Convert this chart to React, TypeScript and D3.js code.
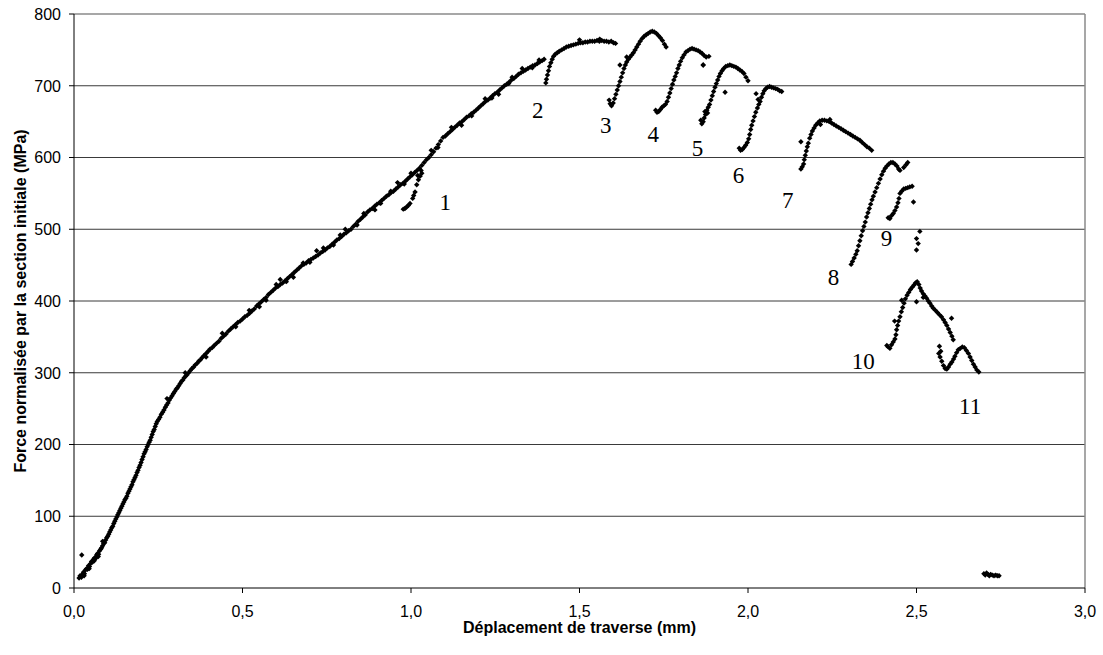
import React from "react";
import * as d3 from "d3";

type P = [number, number];

const xTicks = [0, 0.5, 1.0, 1.5, 2.0, 2.5, 3.0];
const yTicks = [0, 100, 200, 300, 400, 500, 600, 700, 800];

const loading: P[] = [
  [0.015,14],[0.018,17],[0.022,15],[0.025,19],[0.028,22],[0.031,20],[0.034,25],[0.037,27],[0.040,26],[0.043,31],[0.046,30],[0.049,34],[0.052,37],[0.055,36],[0.058,40],[0.061,42],[0.064,41],[0.067,46],[0.070,48],[0.073,47],[0.076,52],[0.079,54],[0.082,56],[0.085,59],[0.088,62],[0.091,63],[0.094,67],[0.097,70],[0.100,72],[0.103,75],[0.106,78],[0.109,81],[0.112,84],[0.115,86],[0.118,90],[0.121,93],[0.124,96],[0.127,99],[0.130,102],[0.133,105],[0.136,108],[0.139,111],[0.142,114],[0.145,117],[0.148,120],[0.151,123],[0.154,125],[0.157,128],[0.160,132],[0.163,135],[0.166,138],[0.169,141],[0.172,144],[0.175,148],[0.178,151],[0.181,154],[0.184,157],[0.187,161],[0.190,164],[0.193,168],[0.196,171],[0.199,175],[0.202,179],[0.205,183],[0.208,187],[0.211,190],[0.214,193],[0.217,197],[0.220,200],[0.223,203],[0.226,206],[0.229,210],[0.232,214],[0.235,218],[0.238,221],[0.241,225],[0.244,229],[0.247,232],[0.251,235],[0.255,238],[0.259,242],[0.263,245],[0.267,248],[0.271,252],[0.275,255],[0.279,258],[0.283,262],[0.287,265],[0.291,268],[0.295,271],[0.299,274],[0.303,277],[0.307,279],[0.311,282],[0.315,285],[0.319,288],[0.323,290],[0.327,293],[0.331,295],[0.335,297],[0.340,300],[0.345,303],[0.350,306],[0.355,308],[0.360,311],[0.365,313],[0.370,316],[0.375,318],[0.380,321],[0.386,324],[0.392,327],[0.398,330],[0.404,333],[0.410,335],[0.416,338],[0.423,341],[0.430,344],[0.437,348],[0.444,351],[0.451,354],[0.458,358],[0.465,361],[0.472,364],[0.479,367],[0.486,370],[0.493,372],[0.500,375],[0.507,378],[0.514,380],[0.521,383],[0.528,386],[0.535,389],[0.542,393],[0.549,396],[0.556,399],[0.563,402],[0.570,405],[0.577,409],[0.584,412],[0.591,415],[0.598,418],[0.605,420],[0.612,423],[0.619,425],[0.626,428],[0.633,431],[0.640,434],[0.647,437],[0.654,440],[0.661,443],[0.668,446],[0.675,449],[0.682,451],[0.689,453],[0.696,456],[0.703,458],[0.710,460],[0.717,462],[0.724,464],[0.731,467],[0.738,469],[0.745,471],[0.752,474],[0.759,476],[0.766,479],[0.773,482],[0.780,485],[0.787,487],[0.794,490],[0.801,493],[0.808,495],[0.815,498],[0.822,500],[0.829,504],[0.836,507],[0.843,511],[0.850,514],[0.857,517],[0.864,520],[0.871,524],[0.878,527],[0.885,529],[0.892,532],[0.899,535],[0.906,537],[0.913,540],[0.920,543],[0.927,546],[0.934,548],[0.941,551],[0.948,553],[0.955,556],[0.962,559],[0.969,562],[0.976,564],[0.983,567],[0.990,570],[0.997,573],[1.004,576],[1.011,579],[1.018,582],[1.025,585],[1.032,589],[1.039,593],[1.046,597],[1.053,600],[1.060,604],[1.067,608],[1.074,613],[1.081,618],[1.088,623],[1.095,628],[1.102,630],[1.109,633],[1.116,636],[1.123,639],[1.130,642],[1.137,645],[1.144,648],[1.151,650],[1.158,653],[1.165,656],[1.172,658],[1.179,661],[1.186,663],[1.193,666],[1.200,669],[1.207,672],[1.214,675],[1.221,678],[1.228,680],[1.235,683],[1.242,686],[1.249,689],[1.256,691],[1.263,694],[1.270,697],[1.277,700],[1.284,702],[1.291,705],[1.298,708],[1.305,710],[1.312,713],[1.319,716],[1.326,718],[1.333,720],[1.340,722],[1.347,724],[1.354,726],[1.361,728],[1.368,729],[1.375,731],[1.382,733],[1.389,735],[1.395,737],
];

const loadingScatter: P[] = [
  [0.023,46],[0.030,17],[0.045,27],[0.060,38],[0.072,44],[0.085,65],[0.276,264],[0.33,300],[0.392,322],[0.44,355],[0.55,392],[0.612,430],[0.651,433],[0.72,470],[0.805,500],[0.893,527],[0.96,565],[1.02,575],[1.06,610],[1.15,645],[1.26,688],[1.30,712],
  [0.48,364],[0.52,387],[0.57,401],[0.60,423],[0.63,427],[0.68,453],[0.70,454],[0.74,474],[0.77,478],[0.79,492],[0.84,506],[0.86,522],[0.91,536],[0.94,553],[0.98,563],[1.00,578],[1.03,582],[1.08,614],[1.12,642],[1.18,658],[1.22,682],[1.24,683],[1.29,703],[1.33,724],[1.36,725],[1.38,736],
];

const seg1: P[] = [
  [1.032,578],[1.027,574],[1.022,569],[1.017,562],[1.012,552],[1.008,547],[1.005,543],[0.997,536],[0.992,533],[0.987,531],[0.982,529],[0.977,528],
];

const seg2: P[] = [
  [1.400,704],[1.402,709],[1.405,715],[1.408,721],[1.411,727],[1.415,732],[1.419,737],[1.423,741],[1.428,744],[1.434,746],[1.440,748],[1.447,750],[1.454,752],[1.461,754],[1.468,755],[1.475,756],[1.482,757],[1.489,758],[1.496,759],[1.503,760],[1.510,760],[1.517,761],[1.524,761],[1.531,762],[1.538,762],[1.545,762],[1.552,763],[1.559,762],[1.566,763],[1.573,762],[1.580,762],[1.587,761],[1.594,762],[1.601,760],[1.607,759],[1.50,764],[1.56,765],
];

const seg3: P[] = [
  [1.588,680],[1.591,675],[1.595,672],[1.600,676],[1.604,682],[1.608,688],[1.612,694],[1.616,700],[1.620,706],[1.624,712],[1.628,718],[1.632,724],[1.636,729],[1.640,733],[1.645,737],[1.650,740],[1.655,743],[1.660,746],[1.665,750],[1.670,754],[1.675,758],[1.680,762],[1.686,766],[1.692,769],[1.698,771],[1.704,773],[1.710,775],[1.716,776],[1.722,775],[1.728,773],[1.734,770],[1.740,767],[1.746,763],[1.752,758],[1.757,754],[1.620,729],[1.640,740],
];

const seg4: P[] = [
  [1.726,666],[1.730,663],[1.735,664],[1.740,667],[1.745,670],[1.750,672],[1.755,674],[1.760,678],[1.764,684],[1.768,690],[1.772,696],[1.776,702],[1.780,708],[1.784,713],[1.788,718],[1.792,724],[1.796,729],[1.800,734],[1.805,739],[1.810,743],[1.816,747],[1.822,749],[1.828,751],[1.834,752],[1.840,751],[1.846,750],[1.852,749],[1.858,747],[1.864,745],[1.870,742],[1.876,740],[1.884,741],[1.867,729],
];

const seg5: P[] = [
  [1.860,652],[1.863,647],[1.867,650],[1.870,655],[1.874,660],[1.878,666],[1.882,670],[1.886,674],[1.890,680],[1.894,686],[1.898,692],[1.902,698],[1.906,703],[1.910,708],[1.914,713],[1.918,717],[1.923,721],[1.928,724],[1.934,727],[1.940,728],[1.946,729],[1.952,728],[1.958,727],[1.964,726],[1.970,724],[1.976,722],[1.982,720],[1.988,717],[1.994,712],[2.000,707],[1.867,729],[1.932,691],[1.880,662],[1.872,664],
];

const seg6: P[] = [
  [1.974,613],[1.978,610],[1.983,611],[1.988,614],[1.993,617],[1.998,621],[2.002,626],[2.005,632],[2.008,639],[2.011,645],[2.015,651],[2.019,657],[2.023,663],[2.028,669],[2.032,674],[2.036,678],[2.040,684],[2.044,689],[2.048,693],[2.053,696],[2.058,698],[2.064,699],[2.070,698],[2.076,697],[2.082,696],[2.088,695],[2.094,693],[2.100,692],[2.024,689],[2.030,681],
];

const seg7: P[] = [
  [2.157,584],[2.161,587],[2.165,591],[2.167,597],[2.170,603],[2.173,609],[2.176,615],[2.179,620],[2.183,627],[2.187,632],[2.191,637],[2.196,641],[2.201,645],[2.207,648],[2.213,651],[2.220,652],[2.227,652],[2.234,651],[2.241,650],[2.248,648],[2.255,646],[2.262,644],[2.269,642],[2.276,640],[2.283,638],[2.290,636],[2.297,634],[2.304,632],[2.311,630],[2.318,628],[2.325,626],[2.332,624],[2.339,621],[2.346,618],[2.353,615],[2.360,613],[2.367,610],[2.157,622],[2.215,646],[2.243,653],
];

const seg8: P[] = [
  [2.306,451],[2.310,455],[2.315,460],[2.320,465],[2.324,470],[2.328,477],[2.332,484],[2.336,491],[2.340,498],[2.344,504],[2.348,510],[2.352,517],[2.356,523],[2.360,529],[2.364,535],[2.368,541],[2.372,546],[2.377,552],[2.382,558],[2.387,564],[2.392,570],[2.397,576],[2.402,581],[2.407,585],[2.412,588],[2.418,591],[2.424,593],[2.430,593],[2.436,591],[2.442,588],[2.447,584],[2.451,582],[2.462,586],[2.469,590],[2.474,593],
];

const seg9: P[] = [
  [2.416,516],[2.421,515],[2.426,519],[2.431,522],[2.436,526],[2.441,531],[2.445,537],[2.448,543],[2.451,550],[2.456,553],[2.462,556],[2.468,557],[2.474,558],[2.480,559],[2.487,560],[2.491,538],[2.510,497],[2.500,487],[2.505,480],[2.500,471],
];

const seg10: P[] = [
  [2.412,338],[2.416,336],[2.421,334],[2.426,339],[2.431,343],[2.436,347],[2.439,353],[2.441,360],[2.444,366],[2.447,372],[2.451,378],[2.455,385],[2.459,391],[2.463,397],[2.467,403],[2.472,408],[2.477,412],[2.482,416],[2.487,419],[2.492,422],[2.497,425],[2.502,427],[2.507,423],[2.511,418],[2.515,414],[2.520,410],[2.525,407],[2.530,404],[2.535,400],[2.540,397],[2.545,393],[2.550,390],[2.556,387],[2.562,384],[2.568,381],[2.574,378],[2.580,374],[2.585,370],[2.590,366],[2.595,361],[2.600,356],[2.605,351],[2.609,346],[2.456,401],[2.500,399],[2.604,376],[2.435,372],[2.520,405],
];

const seg11: P[] = [
  [2.566,327],[2.570,322],[2.575,316],[2.580,310],[2.585,306],[2.590,305],[2.595,308],[2.600,312],[2.605,315],[2.610,319],[2.614,323],[2.619,328],[2.624,332],[2.630,334],[2.636,336],[2.642,335],[2.648,331],[2.654,327],[2.659,322],[2.664,317],[2.669,312],[2.674,308],[2.679,304],[2.685,301],[2.568,337],[2.572,330],
];

const tail: P[] = [
  [2.700,20],[2.704,18],[2.708,21],[2.712,19],[2.716,17],[2.720,19],[2.725,18],[2.730,17],[2.735,18],[2.740,17],[2.745,17],
];

const labelText = ["1", "2", "3", "4", "5", "6", "7", "8", "9", "10", "11"];
const labelX = [1.102, 1.376, 1.578, 1.719, 1.850, 1.972, 2.118, 2.254, 2.411, 2.342, 2.659];
const labelY = [527, 655, 634, 621, 602, 565, 529, 422, 476, 305, 242];

const W = 1103;
const H = 655;
const ML = 74, MR = 1085, MT = 14, MB = 588;

export default function App() {
  const x = d3.scaleLinear().domain([0, 3]).range([ML, MR]);
  const y = d3.scaleLinear().domain([0, 800]).range([MB, MT]);
  const all: P[] = [
    ...loading, ...loadingScatter, ...seg1, ...seg2, ...seg3, ...seg4, ...seg5,
    ...seg6, ...seg7, ...seg8, ...seg9, ...seg10, ...seg11, ...tail,
  ];
  const r = 2.7;
  const diamond = (cx: number, cy: number) =>
    `M${cx},${cy - r}L${cx + r},${cy}L${cx},${cy + r}L${cx - r},${cy}Z`;
  const sans = "'Liberation Sans', Arial, sans-serif";
  const serif = "'Liberation Serif', 'Times New Roman', serif";
  return (
    <svg width={W} height={H} style={{ position: "absolute", left: 0, top: 0, background: "#fff" }}>
      <rect x={0} y={0} width={W} height={H} fill="#fff" />
      {yTicks.filter((t) => t > 0 && t < 800).map((t) => (
        <line key={"g" + t} x1={ML} x2={MR} y1={y(t)} y2={y(t)} stroke="#3a3a3a" strokeWidth={1} />
      ))}
      <line x1={ML} x2={MR} y1={y(800)} y2={y(800)} stroke="#8a8a8a" strokeWidth={1.5} />
      <line x1={MR} x2={MR} y1={MT} y2={MB} stroke="#8a8a8a" strokeWidth={1.5} />
      <line x1={ML} x2={ML} y1={MT} y2={MB} stroke="#000" strokeWidth={1} />
      <line x1={ML} x2={MR} y1={MB} y2={MB} stroke="#000" strokeWidth={1} />
      {yTicks.map((t) => (
        <g key={"yt" + t}>
          <line x1={ML - 5} x2={ML} y1={y(t)} y2={y(t)} stroke="#000" />
          <text x={ML - 13} y={y(t)} dy="0.36em" textAnchor="end" fontFamily={sans} fontSize={16} fill="#000">
            {t}
          </text>
        </g>
      ))}
      {xTicks.map((t) => (
        <g key={"xt" + t}>
          <line x1={x(t)} x2={x(t)} y1={MB} y2={MB + 5} stroke="#000" />
          <text x={x(t)} y={617} textAnchor="middle" fontFamily={sans} fontSize={16} fill="#000">
            {t.toFixed(1).replace(".", ",")}
          </text>
        </g>
      ))}
      <text x={(ML + MR) / 2} y={633} textAnchor="middle" fontFamily={sans} fontSize={16} fontWeight="bold" fill="#000">
        Déplacement de traverse (mm)
      </text>
      <text
        transform={`translate(26,${(MT + MB) / 2}) rotate(-90)`}
        textAnchor="middle"
        fontFamily={sans}
        fontSize={16}
        fontWeight="bold"
        fill="#000"
      >
        Force normalisée par la section initiale (MPa)
      </text>
      <g fill="#000">
        {all.map((p, i) => (
          <path key={i} d={diamond(x(p[0]), y(p[1]))} />
        ))}
      </g>
      {labelText.map((t, i) => (
        <text key={"l" + i} x={x(labelX[i])} y={y(labelY[i])} textAnchor="middle" fontFamily={serif} fontSize={23} fill="#000">
          {t}
        </text>
      ))}
    </svg>
  );
}
